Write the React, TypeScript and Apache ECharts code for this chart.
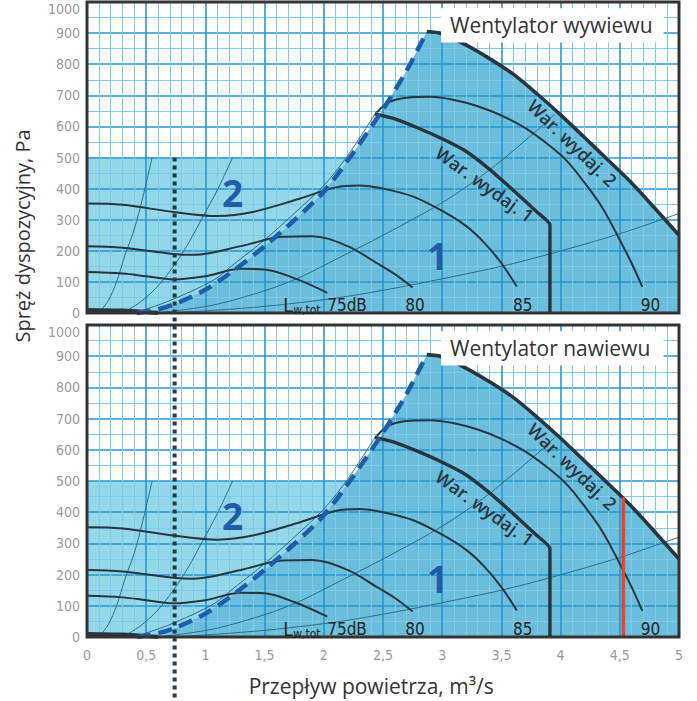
import React, { useEffect, useRef } from "react";
import * as echarts from "echarts";

// ---------- axes ----------
const FLOW_MIN = 0;
const FLOW_MAX = 5;
const FLOW_INTERVAL = 0.5;
const PRESSURE_MIN = 0;
const PRESSURE_MAX = 1000;
const PRESSURE_INTERVAL = 100;
const REGION2_TOP = 500;

// ---------- texts ----------
const panelTitles = ["Wentylator wywiewu", "Wentylator nawiewu"];
const yAxisTitle = "Spręż dyspozycyjny, Pa";
const xAxisTitle = "Przepływ powietrza, m³/s";
const war1Label = "War. wydaj. 1";
const war2Label = "War. wydaj. 2";

// ---------- data: [flow m3/s, pressure Pa] ----------
// dashed boundary between area 1 and area 2
const limitLine: number[][] = [
  [0.42, 0], [0.6, 12], [0.75, 30], [1.0, 75], [1.25, 140], [1.5, 215],
  [1.75, 298], [2.0, 390], [2.22, 500], [2.5, 655], [2.7, 780], [2.87, 905],
];
// upper envelope "War. wydaj. 2"
const war2: number[][] = [
  [2.87, 905], [3.0, 898], [3.2, 862], [3.4, 818], [3.6, 768], [3.8, 705],
  [4.0, 637], [4.2, 565], [4.4, 492], [4.6, 418], [4.8, 335], [5.0, 250],
];
// "War. wydaj. 1"
const war1: number[][] = [
  [2.43, 640], [2.6, 624], [2.8, 594], [3.0, 560], [3.2, 520], [3.4, 462],
  [3.6, 395], [3.8, 325], [3.91, 284], [3.91, 0],
];
// sound power curves
const db75: number[][] = [
  [0, 132], [0.3, 127], [0.5, 118], [0.73, 108], [1.0, 118], [1.3, 142],
  [1.5, 140], [1.75, 112], [2.03, 65],
];
const db80: number[][] = [
  [0, 215], [0.3, 210], [0.73, 190], [0.9, 187], [1.3, 215], [1.65, 245],
  [1.9, 247], [2.2, 215], [2.45, 160], [2.6, 125], [2.75, 82],
];
const db85: number[][] = [
  [0, 352], [0.3, 348], [0.73, 325], [1.1, 312], [1.4, 325], [1.8, 368],
  [2.1, 404], [2.3, 410], [2.5, 400], [2.75, 375], [3.0, 328], [3.2, 280],
  [3.35, 228], [3.5, 160], [3.63, 85],
];
const db90: number[][] = [
  [2.45, 645], [2.55, 678], [2.7, 692], [2.9, 695], [3.1, 685], [3.3, 665],
  [3.5, 635], [3.7, 595], [3.9, 540], [4.05, 490], [4.2, 420], [4.35, 340],
  [4.5, 235], [4.6, 160], [4.69, 84],
];
// thin system curves
const sys1: number[][] = [[0.1, 0], [0.18, 40], [0.25, 100], [0.32, 185], [0.4, 270], [0.47, 370], [0.55, 500]];
const sys2: number[][] = [[0.3, 0], [0.45, 35], [0.59, 83], [0.73, 150], [0.85, 220], [0.98, 310], [1.1, 395], [1.23, 500]];
const sys3: number[][] = [[0.4, 0], [0.7, 40], [1.07, 106], [1.25, 160], [1.5, 235], [1.75, 320], [2.0, 410], [2.2, 505], [2.45, 650]];
const sys4: number[][] = [[0.6, 0], [0.85, 12], [1.12, 30], [1.52, 74], [1.8, 115], [2.14, 180], [2.5, 250], [3.0, 355], [3.4, 460], [3.83, 597], [3.95, 640]];
const sys5: number[][] = [[0.7, 0], [1.2, 12], [1.6, 25], [2.14, 50], [2.6, 80], [3.0, 110], [3.5, 150], [3.91, 190], [4.5, 255], [5.0, 320]];
const baseLine: number[][] = [[0, 10], [0.3, 8], [0.6, 0]];

const dottedFlow = 0.74;
const redFlow = 4.53;
const redLine: number[][] = [[redFlow, 0], [redFlow, 448]];

const dbLabelTexts = ["80", "85", "90"];
const dbLabelFlows = [2.77, 3.68, 4.76];

// ---------- styles ----------
const C_MAJOR = "#2797d2";
const C_MINOR = "#7fcaea";
const C_LIGHT = "#93d7e8";
const C_DARK = "#6cbfdc";
const C_CURVE = "#27353e";
const C_THIN = "#2e6e88";
const C_BLUE = "#1f5dab";
const C_RED = "#e5432c";
const NARROW = "'Liberation Sans Narrow', 'DejaVu Sans Condensed', Roboto, sans-serif";
const SANS = "'Open Sans', 'Noto Sans', sans-serif";

function lineSeries(data: number[][], gi: number, color: string, width: number, extra: any = {}) {
  return {
    type: "line",
    xAxisIndex: gi,
    yAxisIndex: gi,
    data,
    symbol: "none",
    showSymbol: false,
    silent: true,
    z: 3,
    smooth: extra.smooth ?? 0.3,
    lineStyle: { color, width, type: extra.type ?? "solid", cap: "butt" },
  };
}

function buildOption() {
  const grids = [
    { left: 87, right: 18, top: 2, height: 311 },
    { left: 87, right: 18, top: 325, height: 312 },
  ];
  const xAxis = [0, 1].map((gi) => ({
    type: "value",
    gridIndex: gi,
    min: FLOW_MIN,
    max: FLOW_MAX,
    interval: FLOW_INTERVAL,
    z: 1,
    axisLine: { show: false },
    axisTick: { show: false },
    axisLabel: {
      show: gi === 1,
      formatter: (v: number) => String(v).replace(".", ","),
      color: "#999",
      fontSize: 14,
      fontWeight: 300,
      fontFamily: NARROW,
      margin: 11,
    },
    splitLine: { show: true, lineStyle: { color: C_MAJOR, width: 1.6 } },
    minorTick: { show: false, splitNumber: 5 },
    minorSplitLine: { show: true, lineStyle: { color: C_MINOR, width: 1 } },
  }));
  const yAxis = [0, 1].map((gi) => ({
    type: "value",
    gridIndex: gi,
    min: PRESSURE_MIN,
    max: PRESSURE_MAX,
    interval: PRESSURE_INTERVAL,
    z: 1,
    axisLine: { show: false },
    axisTick: { show: false },
    axisLabel: {
      formatter: (v: number) => String(v),
      color: "#999",
      fontSize: 14,
      fontWeight: 300,
      fontFamily: NARROW,
      margin: 7,
      verticalAlignMaxLabel: "top",
    },
    splitLine: { show: true, lineStyle: { color: C_MAJOR, width: 1.6 } },
    minorTick: { show: false, splitNumber: 2 },
    minorSplitLine: { show: true, lineStyle: { color: C_MINOR, width: 1 } },
  }));

  const region2Poly = [
    [FLOW_MIN, PRESSURE_MIN],
    [FLOW_MIN, REGION2_TOP],
    ...limitLine.filter((p) => p[1] <= REGION2_TOP).slice().reverse(),
  ];
  const region1Poly = [
    ...limitLine,
    ...war2.slice(1),
    [FLOW_MAX, PRESSURE_MIN],
  ];

  const series: any[] = [];
  [0, 1].forEach((gi) => {
    series.push({
      type: "custom",
      xAxisIndex: gi,
      yAxisIndex: gi,
      z: 0,
      silent: true,
      clip: false,
      data: [[0, 0]],
      renderItem: (_p: any, api: any) => ({
        type: "group",
        children: [
          { type: "polygon", shape: { points: region2Poly.map((pt) => api.coord(pt)) }, style: { fill: C_LIGHT } },
          { type: "polygon", shape: { points: region1Poly.map((pt) => api.coord(pt)) }, style: { fill: C_DARK } },
        ],
      }),
    });
    [sys1, sys2, sys3, sys4, sys5].forEach((s) => series.push(lineSeries(s, gi, C_THIN, 1, { smooth: 0.3 })));
    [db75, db80, db85, db90].forEach((s) => series.push(lineSeries(s, gi, C_CURVE, 2, { smooth: 0.35 })));
    series.push(lineSeries(baseLine, gi, C_CURVE, 4, { smooth: 0.2 }));
    series.push(lineSeries(war1, gi, C_CURVE, 3.4, { smooth: 0.15 }));
    series.push(lineSeries(war2, gi, C_CURVE, 3.6, { smooth: 0.3 }));
    series.push({ ...lineSeries(limitLine, gi, C_BLUE, 4.5, { smooth: 0.3, type: [14, 8] }), z: 4 });
    if (gi === 1) {
      series.push({ ...lineSeries(redLine, gi, C_RED, 3.5, { smooth: false }), z: 4 });
    }
    series.push({
      type: "custom",
      xAxisIndex: gi,
      yAxisIndex: gi,
      z: 20,
      silent: true,
      clip: false,
      data: [[0, 0]],
      renderItem: (_p: any, api: any) => {
        const a = api.coord([FLOW_MIN, PRESSURE_MAX]);
        const b = api.coord([FLOW_MAX, PRESSURE_MIN]);
        return {
          type: "rect",
          shape: { x: a[0], y: a[1], width: b[0] - a[0], height: b[1] - a[1] },
          style: { fill: "none", stroke: "#333", lineWidth: 3 },
        };
      },
    });
  });

  return {
    animation: false,
    backgroundColor: "#fff",
    grid: grids,
    xAxis,
    yAxis,
    series,
  };
}

function txt(x: number, y: number, text: string, o: any = {}) {
  return {
    type: "text",
    x,
    y,
    z: 100,
    rotation: o.rotation ?? 0,
    silent: true,
    style: {
      text,
      fontSize: o.fontSize ?? 16,
      fontFamily: o.fontFamily ?? SANS,
      fontWeight: o.fontWeight ?? "normal",
      fill: o.fill ?? "#222",
      align: o.align ?? "center",
      textAlign: o.align ?? "center",
      verticalAlign: o.vAlign ?? "middle",
      textVerticalAlign: o.vAlign ?? "middle",
    },
  };
}

export default function App() {
  const ref = useRef<HTMLDivElement>(null);
  useEffect(() => {
    if (!ref.current) return;
    const chart = echarts.init(ref.current, null, { renderer: "svg" });
    chart.setOption(buildOption());
    const px = (gi: number, q: number, p: number) =>
      chart.convertToPixel({ gridIndex: gi }, [q, p]) as number[];

    const g: any[] = [];
    [0, 1].forEach((gi) => {
      // title box
      const a = px(gi, 2.99, 980);
      const b = px(gi, 4.87, 870);
      g.push({
        type: "rect",
        z: 90,
        silent: true,
        shape: { x: a[0], y: a[1], width: b[0] - a[0], height: b[1] - a[1] },
        style: { fill: "#fff" },
      });
      g.push(txt(a[0] + 9, (a[1] + b[1]) / 2, panelTitles[gi], { fontSize: 21, fill: "#333", align: "left" }));
      // area numbers
      const n2 = px(gi, 1.23, 388);
      g.push(txt(n2[0], n2[1], "2", { fontSize: 37, fontWeight: "bold", fontFamily: "'Noto Sans', sans-serif", fill: C_BLUE }));
      const n1 = px(gi, 2.96, 186);
      g.push(txt(n1[0], n1[1], "1", { fontSize: 37, fontWeight: "bold", fontFamily: "'Noto Sans', sans-serif", fill: C_BLUE }));
      // Lw,tot 75dB
      const l = px(gi, 1.657, 26);
      g.push(txt(l[0], l[1], "L", { fontSize: 19, fontFamily: NARROW, align: "left" }));
      g.push(txt(l[0] + 10, l[1] + 5, "w,tot", { fontSize: 12, fontFamily: NARROW, align: "left" }));
      g.push(txt(l[0] + 44, l[1], "75dB", { fontSize: 17, fontFamily: NARROW, align: "left" }));
      dbLabelTexts.forEach((t, i) => {
        const p = px(gi, dbLabelFlows[i], 27);
        g.push(txt(p[0], p[1], t, { fontSize: 17, fontFamily: NARROW }));
      });
      // curve labels
      const w1 = px(gi, 3.36, 414);
      g.push(txt(w1[0], w1[1], war1Label, { fontSize: 18, fontWeight: 600, fill: "#27353e", rotation: (-35.5 * Math.PI) / 180 }));
      const w2 = px(gi, 4.1, 547);
      g.push(txt(w2[0], w2[1], war2Label, { fontSize: 18, fontWeight: 600, fill: "#27353e", rotation: (-44 * Math.PI) / 180 }));
    });
    // dotted vertical marker
    const d0 = px(0, dottedFlow, REGION2_TOP);
    g.push({
      type: "line",
      z: 110,
      silent: true,
      shape: { x1: d0[0], y1: d0[1], x2: d0[0], y2: 701 },
      style: { stroke: "#2b3a42", lineWidth: 4, lineDash: [4, 4] },
    });
    // axis titles
    g.push(txt(22, 236, yAxisTitle, { fontSize: 20, fill: "#333", rotation: Math.PI / 2 }));
    const xc = px(1, 2.4, 0);
    g.push(txt(xc[0], 686, xAxisTitle, { fontSize: 21, fill: "#333" }));

    chart.setOption({ graphic: { elements: g } });
    return () => chart.dispose();
  }, []);
  return (
    <div
      ref={ref}
      style={{ position: "absolute", left: 0, top: 0, width: 697, height: 701, background: "#fff" }}
    />
  );
}
